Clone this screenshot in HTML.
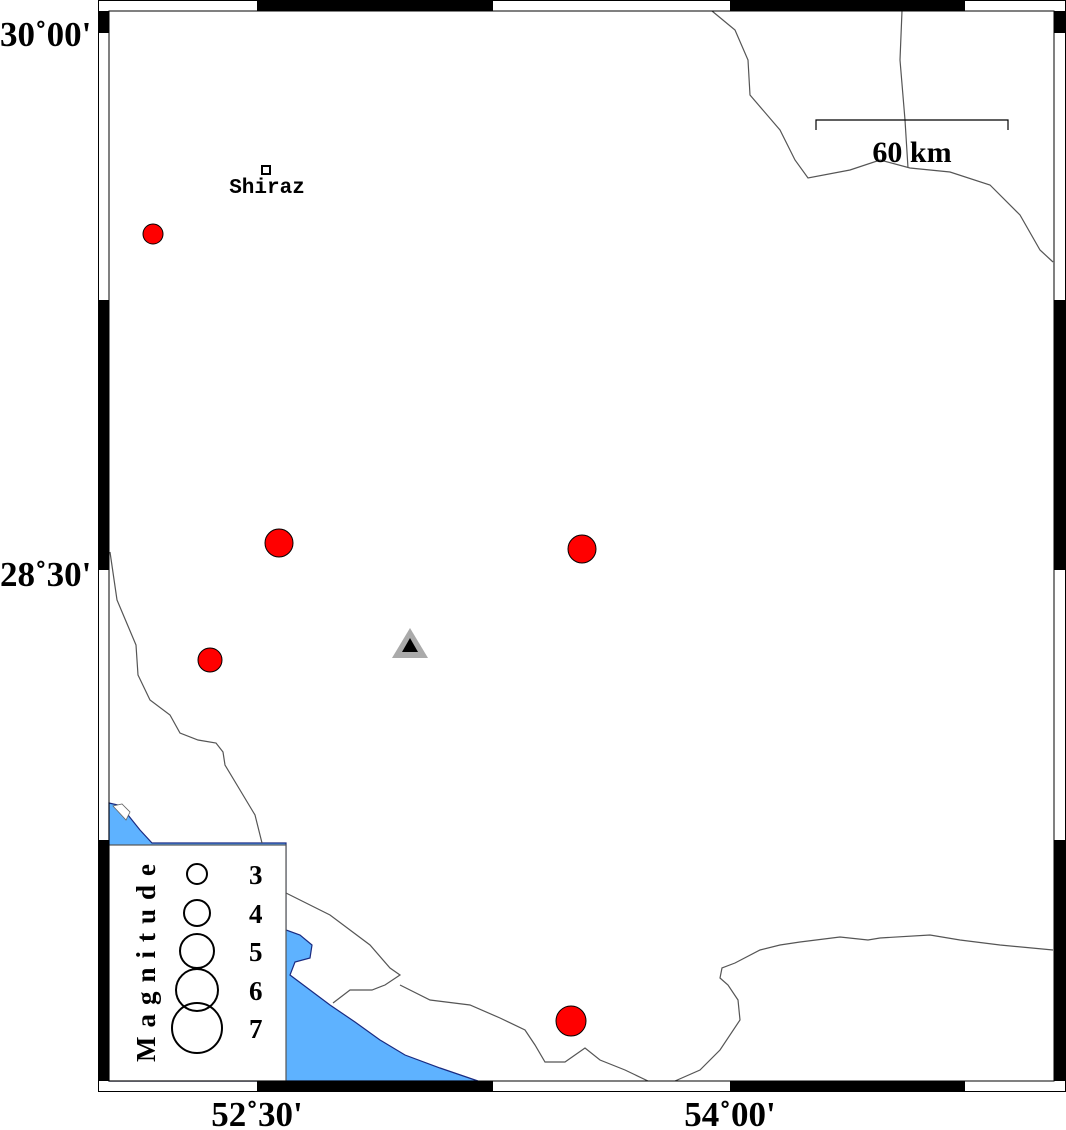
<!DOCTYPE html>
<html><head><style>
html,body{margin:0;padding:0;background:#fff;}
svg{display:block;}
text{font-family:"Liberation Serif",serif;font-weight:bold;}
</style></head><body>
<svg width="1066" height="1130" viewBox="0 0 1066 1130" xmlns="http://www.w3.org/2000/svg">
<rect width="1066" height="1130" fill="#fff"/>
<path d="M109,803 L118,805 L128,815 L140,830 L152,843 L286,843 L286,930 L300,935 L312,945 L310,958 L295,962 L290,975 L310,990 L330,1005 L355,1022 L380,1040 L405,1055 L440,1068 L478,1081 L109,1081 Z" fill="#5eb2ff" stroke="#1a2a80" stroke-width="1.2"/>
<path d="M113,806 L122,804 L130,812 L126,820 Z" fill="#fff" stroke="#666" stroke-width="0.8"/>
<g fill="none" stroke="#555" stroke-width="1.2">
<path d="M110,552 L117,600 L136,645 L138,675 L150,700 L170,715 L180,733 L198,740 L216,743 L223,752 L225,765 L240,790 L255,815 L262,843"/>
<path d="M286,893 L330,915 L370,945 L390,968 L400,975 L385,985 L372,990 L350,990 L333,1003"/>
<path d="M400,985 L430,1000 L470,1005 L500,1018 L525,1030 L535,1045 L545,1062 L565,1062 L585,1048 L600,1060 L625,1070 L648,1081"/>
<path d="M675,1081 L700,1070 L720,1050 L740,1020 L738,1000 L728,985 L720,978 L722,968 L735,963 L760,950 L780,945 L800,942 L840,937 L868,940 L880,938 L930,935 L960,940 L1000,945 L1053,950"/>
<path d="M712,11 L735,30 L748,60 L750,95 L780,130 L795,160 L808,178 L850,170 L880,160 L910,168 L950,172 L990,185 L1020,215 L1040,250 L1053,262"/>
<path d="M902,11 L900,60 L905,120 L908,168"/>
</g>
<path d="M816,130 L816,120 L1008,120 L1008,130" fill="none" stroke="#000" stroke-width="1.2"/>
<text x="912" y="162" font-size="30" text-anchor="middle">60 km</text>
<rect x="262" y="166" width="8" height="8" fill="#fff" stroke="#000" stroke-width="2"/>
<text x="267" y="193" font-size="21" text-anchor="middle" style="font-family:'Liberation Mono',monospace">Shiraz</text>
<g fill="#f00" stroke="#000" stroke-width="1">
<circle cx="153" cy="234" r="10"/>
<circle cx="279" cy="543" r="14"/>
<circle cx="582" cy="549" r="14"/>
<circle cx="210" cy="660" r="12"/>
<circle cx="571" cy="1021" r="15"/>
</g>
<polygon points="410,628 428,658 392,658" fill="#aaa"/>
<polygon points="410,638 418,652 402,652" fill="#000"/>
<rect x="109" y="845" width="177" height="236" fill="#fff" stroke="#555" stroke-width="1.2"/>
<g fill="none" stroke="#000" stroke-width="2">
<circle cx="197" cy="874" r="10"/>
<circle cx="197" cy="913" r="13"/>
<circle cx="197" cy="951" r="17"/>
<circle cx="197" cy="990" r="21"/>
<circle cx="197" cy="1028" r="25"/>
</g>
<g font-size="27">
<text x="249" y="884">3</text>
<text x="249" y="923">4</text>
<text x="249" y="961">5</text>
<text x="249" y="1000">6</text>
<text x="249" y="1038">7</text>
</g>
<text transform="translate(155,1062) rotate(-90)" font-size="27" letter-spacing="9">Magnitude</text>
<rect x="98.5" y="0.5" width="967" height="1091" fill="none" stroke="#000" stroke-width="1"/>
<rect x="109" y="11" width="945" height="1070" fill="none" stroke="#000" stroke-width="1"/>
<g fill="#000">
<rect x="257" y="0" width="236" height="11"/>
<rect x="730" y="0" width="235" height="11"/>
<rect x="257" y="1081" width="236" height="11"/>
<rect x="730" y="1081" width="235" height="11"/>
<rect x="98" y="11" width="11" height="22"/>
<rect x="98" y="300" width="11" height="270"/>
<rect x="98" y="840" width="11" height="241"/>
<rect x="1054" y="11" width="11" height="22"/>
<rect x="1054" y="300" width="11" height="270"/>
<rect x="1054" y="840" width="11" height="241"/>
</g>
<g font-size="35">
<text x="0" y="46">30˚00'</text>
<text x="0" y="586">28˚30'</text>
<text x="257" y="1126" text-anchor="middle">52˚30'</text>
<text x="730" y="1126" text-anchor="middle">54˚00'</text>
</g>
</svg>
</body></html>
